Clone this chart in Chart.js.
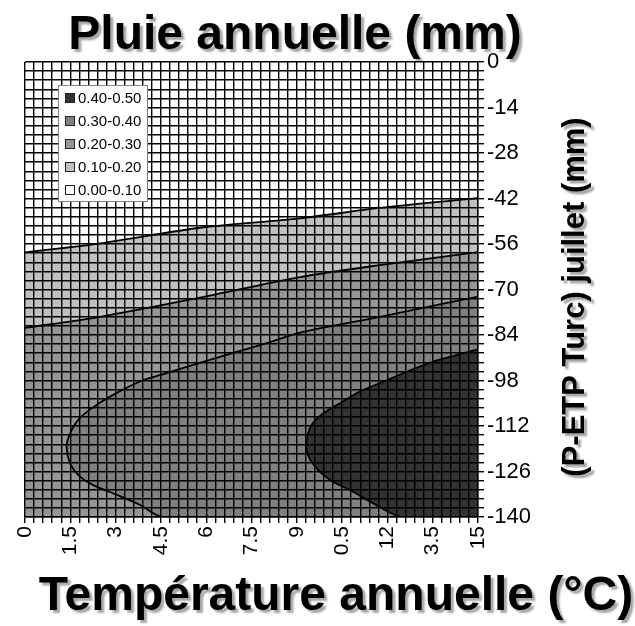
<!DOCTYPE html>
<html>
<head>
<meta charset="utf-8">
<script src="https://cdn.jsdelivr.net/npm/chart.js@4.4.1/dist/chart.umd.min.js"></script>
<style>
  html, body { margin: 0; padding: 0; background: #fff; }
</style>
</head>
<body>
<canvas id="myChart" width="635" height="626"></canvas>
<script>
// band labels and fill colours (legend order, top band first)
let bandLabels = ['0.40-0.50', '0.30-0.40', '0.20-0.30', '0.10-0.20', '0.00-0.10'];
let bandColors = ['#333333', '#808080', '#969696', '#c0c0c0', '#ffffff'];

// contour lines: [température, P-ETP]
let contour01 = [[0, -58.6], [2.5, -55.8], [5.8, -51.0], [9.1, -48.1], [11.75, -44.9], [15, -41.9]];
let contour02 = [[0, -81.8], [2.5, -78.4], [5.8, -72.5], [9.1, -66.2], [11.75, -62.5], [15, -58.5]];
let contour03 = [[15, -72.2], [14.46, -73.2], [11.75, -78.4], [9.11, -83.3], [8.0, -86.5], [6.89, -89.5],
                 [5.79, -92.6], [4.69, -95.7], [3.81, -98.3], [3.04, -101.8], [2.37, -105.5], [1.82, -109.5],
                 [1.55, -113.2], [1.38, -117.8], [1.49, -123.4], [1.82, -127.6], [2.26, -130.2],
                 [3.04, -133.2], [3.81, -136.3], [4.57, -140], [15, -140]];
let contour04 = [[15, -88.4], [14.29, -90.2], [13.52, -92.2], [12.64, -95.3], [11.86, -98.4], [11.09, -101.4],
                 [10.43, -105.0], [9.88, -108.1], [9.49, -111.7], [9.33, -116.3], [9.35, -120.4], [9.6, -124.5],
                 [10.1, -128.6], [10.76, -131.7], [11.53, -135.8], [12.47, -140], [15, -140]];
let topEdge = [[0, 0], [15, 0]];

// axis tick labels (as printed, every 5th grid line)
let xTickLabels = ['0', '1.5', '3', '4.5', '6', '7.5', '9', '0.5', '12', '3.5', '15'];
let yTickLabels = ['-140', '-126', '-112', '-98', '-84', '-70', '-56', '-42', '-28', '-14', '0'];

let toXY = arr => arr.map(p => ({ x: p[0], y: p[1] }));

Chart.defaults.font.family = '"Liberation Sans", Arial, sans-serif';
Chart.defaults.color = '#000';

let overlayText = {
    id: 'overlayText',
    afterDraw(chart) {
        let ctx = chart.ctx;
        ctx.save();

        // legend box
        ctx.fillStyle = '#fff';
        ctx.strokeStyle = '#808080';
        ctx.lineWidth = 1;
        ctx.fillRect(58.5, 85.5, 89, 116);
        ctx.strokeRect(58.5, 85.5, 89, 116);
        ctx.font = '15px "Liberation Sans", Arial, sans-serif';
        ctx.textAlign = 'left';
        ctx.textBaseline = 'middle';
        chart.data.datasets.forEach((ds, i) => {
            let y = 98 + i * 23;
            ctx.fillStyle = ds.backgroundColor;
            ctx.fillRect(65.5, y - 4.5, 9, 9);
            ctx.strokeStyle = '#222';
            ctx.strokeRect(65.5, y - 4.5, 9, 9);
            ctx.fillStyle = '#000';
            ctx.fillText(ds.label, 78, y + 1);
        });

        // titles with a soft drop shadow
        let drawTitle = (text, x, y, size, rot) => {
            ctx.save();
            ctx.translate(x, y);
            ctx.rotate(rot);
            ctx.font = 'bold ' + size + 'px "Liberation Sans", Arial, sans-serif';
            ctx.textAlign = 'center';
            ctx.textBaseline = 'alphabetic';
            ctx.shadowColor = 'rgba(0,0,0,0.35)';
            ctx.shadowBlur = 2;
            ctx.shadowOffsetX = 3;
            ctx.shadowOffsetY = 3;
            ctx.fillStyle = '#000';
            ctx.fillText(text, 0, 0);
            ctx.restore();
        };
        drawTitle('Pluie annuelle (mm)', 295, 49, 48, 0);
        drawTitle('Température annuelle (°C)', 336, 610, 48, 0);
        drawTitle('(P-ETP Turc) juillet (mm)', 584, 297, 31, -Math.PI / 2);

        ctx.restore();
    }
};

let contourChart = document.getElementById('myChart').getContext('2d');

let chart = new Chart(contourChart, {

    type: 'line',

    data: {
        datasets: [
            { label: bandLabels[0], data: toXY(contour04), backgroundColor: bandColors[0], fill: 'shape' },
            { label: bandLabels[1], data: toXY(contour03), backgroundColor: bandColors[1], fill: 'shape' },
            { label: bandLabels[2], data: toXY(contour02), backgroundColor: bandColors[2], fill: 'start' },
            { label: bandLabels[3], data: toXY(contour01), backgroundColor: bandColors[3], fill: 'start' },
            { label: bandLabels[4], data: toXY(topEdge), backgroundColor: bandColors[4], fill: 'start', borderWidth: 0 }
        ]
    },

    options: {
        responsive: false,
        animation: false,
        layout: { padding: { left: 25, top: 62, right: 97, bottom: 59 } },
        elements: {
            point: { radius: 0 },
            line: { tension: 0.3, borderWidth: 1.8, borderColor: '#000' }
        },
        plugins: {
            legend: { display: false },
            tooltip: { enabled: false },
            title: { display: false }
        },
        scales: {
            x: {
                type: 'linear',
                min: 0,
                max: 15,
                grid: { z: 1, color: '#000', lineWidth: 1.4, tickLength: 6, tickColor: '#000' },
                border: { z: 1, color: '#000', width: 1.4 },
                ticks: {
                    stepSize: 0.3,
                    autoSkip: false,
                    minRotation: 90,
                    maxRotation: 90,
                    padding: 3,
                    font: { size: 21 },
                    callback: (v, i) => i % 5 === 0 ? xTickLabels[i / 5] : ''
                },
                afterFit: s => { s.height = 50; }
            },
            y: {
                type: 'linear',
                position: 'right',
                min: -140,
                max: 0,
                grid: { z: 1, color: '#000', lineWidth: 1.4, tickLength: 6, tickColor: '#000' },
                border: { z: 1, color: '#000', width: 1.4 },
                ticks: {
                    stepSize: 2.8,
                    autoSkip: false,
                    padding: 3,
                    font: { size: 22 },
                    callback: (v, i) => i % 5 === 0 ? yTickLabels[i / 5] : ''
                },
                afterFit: s => { s.width = 60; }
            }
        }
    },

    plugins: [overlayText]
});
</script>
</body>
</html>
